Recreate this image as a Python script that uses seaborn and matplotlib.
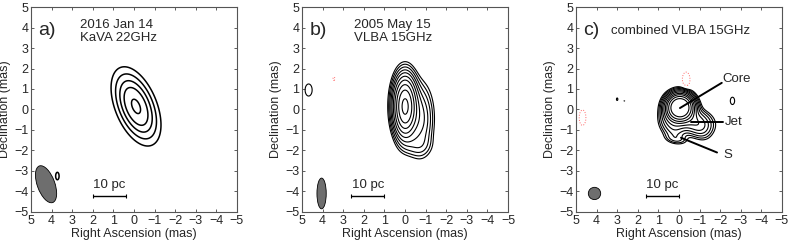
import numpy as np
import seaborn as sns
import matplotlib.pyplot as plt
from matplotlib.patches import Ellipse

# Gaussian model components for each map: RA, Dec, peak, sigma major, sigma minor, PA (deg)
comp_a = [(-0.1, 0.15, 1.0, 1.05, 0.52, 22),
          (3.72, -3.25, 0.20, 0.24, 0.11, 0)]
comp_b = [(0.0, 0.15, 1.0, 0.78, 0.30, 0),
          (-0.75, -0.45, 0.12, 0.95, 0.36, 0),
          (-0.55, -1.75, 0.035, 0.35, 0.45, 0),
          (4.68, 0.95, 0.027, 0.38, 0.22, 0),
          (3.45, 1.5, -0.030, 0.06, 0.03, 0)]
comp_c = [(-0.05, 0.1, 1.0, 0.34, 0.34, 0),
          (-0.7, -0.6, 0.07, 0.55, 0.36, 80),
          (-1.05, -0.9, 0.025, 0.4, 0.3, 30),
          (0.12, -1.45, 0.022, 0.34, 0.16, 80),
          (0.15, -1.0, 0.03, 0.3, 0.3, 0),
          (0.45, -0.5, 0.045, 0.4, 0.32, 0),
          (-0.35, 1.45, -0.024, 0.3, 0.15, 0),
          (4.68, -0.4, -0.024, 0.3, 0.13, 0),
          (3.0, 0.5, 0.014, 0.09, 0.05, 0),
          (2.65, 0.42, 0.012, 0.04, 0.03, 0),
          (-2.6, 0.42, 0.0145, 0.24, 0.14, 0)]

levels_a = [0.15, 0.28, 0.45, 0.65, 0.94]
levels_b = [0.02, 0.031, 0.048, 0.074, 0.11, 0.17, 0.26, 0.40, 0.60, 0.90]
levels_c = [0.011, 0.0165, 0.025, 0.038, 0.057, 0.085, 0.13, 0.19, 0.29, 0.45]
neg_levels = [-0.011]

beams = [(4.27, -3.65, 1.9, 0.85, 20), (4.05, -4.1, 1.5, 0.45, 0), (4.1, -4.1, 0.6, 0.6, 0)]
panel_tags = ["a)", "b)", "c)"]
panel_texts = ["2016 Jan 14\nKaVA 22GHz", "2005 May 15\nVLBA 15GHz", "combined VLBA 15GHz"]
text_x = [2.6, 2.5, 3.3]
scalebar_start = [2.0, 2.6, 1.6]
scalebar_len = 1.6

c_labels = ["Core", "Jet", "S"]
c_label_pos = [(-2.12, 1.5), (-2.25, -0.63), (-2.18, -2.2)]
c_line_from = [(-0.05, 0.07), (-0.6, -0.6), (-0.1, -1.38)]
c_line_to = [(-2.08, 1.3), (-2.12, -0.6), (-1.85, -2.1)]


def model(RA, DEC, comps):
    z = np.zeros_like(RA)
    for x0, y0, amp, smaj, smin, pa in comps:
        t = np.deg2rad(pa)
        dx, dy = RA - x0, DEC - y0
        u = dx * np.sin(t) + dy * np.cos(t)
        v = dx * np.cos(t) - dy * np.sin(t)
        z += amp * np.exp(-0.5 * ((u / smaj) ** 2 + (v / smin) ** 2))
    return z


sns.set_style("ticks")
plt.rcParams['font.family'] = ['Liberation Sans', 'DejaVu Sans']

g = np.linspace(-5.5, 5.5, 551)
RA, DEC = np.meshgrid(g, g)

fig = plt.figure(figsize=(7.89, 2.43), dpi=100)
lefts = [0.0393, 0.3828, 0.730]
fields = [comp_a, comp_b, comp_c]
levs = [levels_a, levels_b, levels_c]
lws = [1.1, 0.8, 0.8]

for i in range(3):
    ax = fig.add_axes([lefts[i], 0.128, 0.261, 0.843])
    z = model(RA, DEC, fields[i])
    ax.contour(RA, DEC, z, levels=levs[i], colors='black', linewidths=lws[i])
    if z.min() < neg_levels[0]:
        ax.contour(RA, DEC, z, levels=neg_levels, colors='#ff6666', linewidths=0.7,
                   linestyles=':')
    bx, by, bmaj, bmin, bpa = beams[i]
    ax.add_patch(Ellipse((bx, by), bmin, bmaj, angle=-bpa, facecolor='#6e6e6e',
                         edgecolor='black', linewidth=0.6))
    s0 = scalebar_start[i]
    ax.errorbar([s0 - scalebar_len / 2], [-4.2], xerr=scalebar_len / 2, color='black',
                capsize=1.5, linewidth=1.0, capthick=0.8)
    ax.text(s0 - scalebar_len / 2, -3.98, "10 pc", ha='center', va='bottom', fontsize=9.5)
    ax.text(4.65, 3.85, panel_tags[i], ha='left', va='center', fontsize=14)
    ax.text(text_x[i], 3.85 if i == 2 else 3.8, panel_texts[i], ha='left', va='center',
            fontsize=9.5, linespacing=1.05)
    if i == 2:
        for lab, p, a0, a1 in zip(c_labels, c_label_pos, c_line_from, c_line_to):
            ax.plot([a0[0], a1[0]], [a0[1], a1[1]], color='black', lw=1.4)
            ax.text(p[0], p[1], lab, ha='left', va='center', fontsize=9.5)
    ax.set_xlim(5, -5)
    ax.set_ylim(-5, 5)
    ax.set_xticks(np.arange(-5, 6))
    ax.set_yticks(np.arange(-5, 6))
    ax.set_xticklabels([f"{v}".replace("-", "\u2212") for v in np.arange(-5, 6)])
    ax.set_yticklabels([f"{v}".replace("-", "\u2212") for v in np.arange(-5, 6)])
    ax.tick_params(direction='in', length=2.5, width=0.6, top=True, right=True,
                   labelsize=9, pad=2, color='#444444')
    for sp in ax.spines.values():
        sp.set_color('#555555')
        sp.set_linewidth(0.8)
    ax.set_xlabel("Right Ascension (mas)", fontsize=9, labelpad=1)
    ax.set_ylabel("Declination (mas)", fontsize=9, labelpad=2)

fig.savefig("out.png", dpi=100)
